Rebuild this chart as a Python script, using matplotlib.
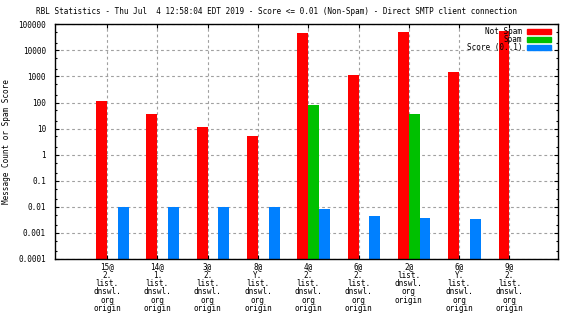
import numpy as np
import matplotlib
matplotlib.use("Agg")
import matplotlib.pyplot as plt
from matplotlib.patches import Patch
from matplotlib.ticker import LogLocator, FixedLocator, NullFormatter

# data
categorias = [
    "15@\n2.\nlist.\ndnswl.\norg\norigin",
    "14@\n1.\nlist.\ndnswl.\norg\norigin",
    "3@\n2.\nlist.\ndnswl.\norg\norigin",
    "8@\nY.\nlist.\ndnswl.\norg\norigin",
    "4@\n2.\nlist.\ndnswl.\norg\norigin",
    "6@\n2.\nlist.\ndnswl.\norg\norigin",
    "2@\nlist.\ndnswl.\norg\norigin",
    "6@\nY.\nlist.\ndnswl.\norg\norigin",
    "9@\n2.\nlist.\ndnswl.\norg\norigin",
]
not_spam = [113, 36, 11.4, 5.2, 45500, 1120, 50000, 1460, 54000]
spam = [0, 0, 0, 0, 79, 0, 36, 0, 0]
score = [0.01, 0.01, 0.01, 0.01, 0.0082, 0.0044, 0.0037, 0.0034, 0]
yticks = [1e5, 1e4, 1e3, 1e2, 10, 1, 0.1, 0.01, 0.001, 0.0001]
ytick_labels = ["100000", "10000", "1000", "100", "10", "1", "0.1", "0.01", "0.001", "0.0001"]

titulo = "RBL Statistics - Thu Jul  4 12:58:04 EDT 2019 - Score <= 0.01 (Non-Spam) - Direct SMTP client connection"

plt.rcParams["font.family"] = ["DejaVu Sans Mono"]
fs = 5.5

fig = plt.figure(figsize=(5.76, 3.24), dpi=100)
ax = fig.add_axes([55 / 576, 1 - 259 / 324, 503 / 576, 234.7 / 324])

x = np.arange(len(categorias))
w = 0.215
base = 1e-5
rojo, verde, azul = "#ff0000", "#00c000", "#0080ff"

ax.bar(x - w, np.array(not_spam) - base, w, bottom=base, align="edge", color=rojo)
ax.bar(x, np.array(spam) - base, w, bottom=base, align="edge", color=verde)
ax.bar(x + w, np.array(score) - base, w, bottom=base, align="edge", color=azul)

ax.set_yscale("log")
ax.set_ylim(1e-4, 1e5)
ax.set_xlim(-1.034, 8.966)
ax.yaxis.set_major_locator(FixedLocator(yticks))
ax.set_yticklabels(ytick_labels, fontsize=fs)
ax.yaxis.set_minor_locator(LogLocator(base=10, subs=(2, 5), numticks=20))
ax.yaxis.set_minor_formatter(NullFormatter())
ax.set_xticks(x)
ax.set_xticklabels(categorias, fontsize=fs, linespacing=0.9)

ax.tick_params(axis="both", which="major", direction="in", length=3,
               width=0.8, top=True, right=True, colors="black")
ax.tick_params(axis="y", which="minor", direction="in", length=1.6,
               width=0.8, right=True)
ax.tick_params(axis="x", pad=2.5)
ax.tick_params(axis="y", pad=6.5)

ax.grid(True, which="major", color="#a0a0a0", linestyle=(0, (2.5, 2.5)), linewidth=0.8)
ax.set_axisbelow(True)
for s in ax.spines.values():
    s.set_linewidth(1.0)

handles = [Patch(color=rojo), Patch(color=verde), Patch(color=azul)]
ax.legend(handles, ["Not Spam", "Spam", "Score (0..1)"], loc="upper right",
          bbox_to_anchor=(0.997, 1.013),
          frameon=False, markerfirst=False, fontsize=fs, handlelength=3.1,
          handleheight=0.65, labelspacing=-0.12, handletextpad=0.65,
          borderaxespad=0.55, borderpad=0.2)

fig.text(277 / 576, 1 - 12 / 324, titulo, ha="center", va="center", fontsize=fs)
fig.text(7 / 576, 1 - 142 / 324, "Message Count or Spam Score", rotation=90,
         ha="center", va="center", fontsize=fs)

fig.savefig("out.png", dpi=100)
